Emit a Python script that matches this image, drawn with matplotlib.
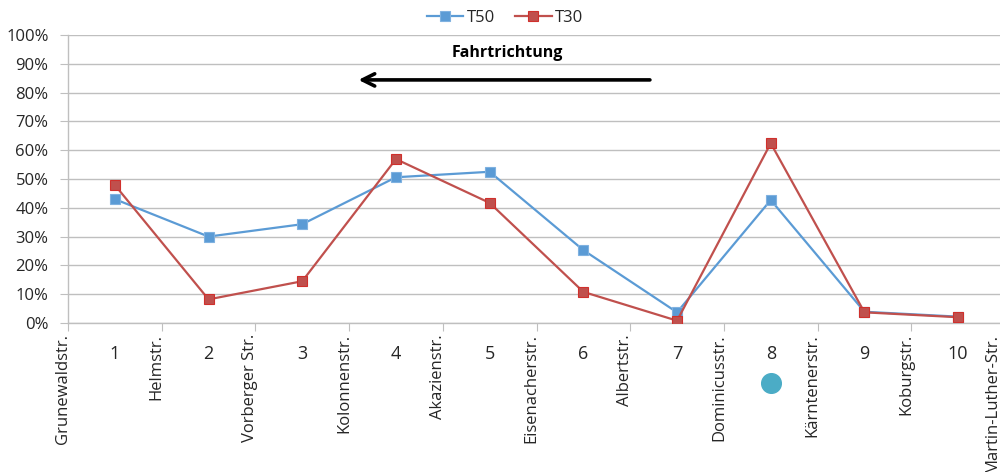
import matplotlib
matplotlib.use('Agg')
import matplotlib.pyplot as plt
from matplotlib.ticker import PercentFormatter, FixedLocator
from matplotlib.transforms import ScaledTranslation

plt.rcParams['font.family'] = ['Open Sans', 'DejaVu Sans']

# ── data ─────────────────────────────────────────────────────────────────────
streets = ['Grunewaldstr.', 'Helmstr.', 'Vorberger Str.', 'Kolonnenstr.',
           'Akazienstr.', 'Eisenacherstr.', 'Albertstr.', 'Dominicusstr.',
           'Kärntenerstr.', 'Koburgstr.', 'Martin-Luther-Str.']
sections = ['1', '2', '3', '4', '5', '6', '7', '8', '9', '10']
t50 = [0.43, 0.30, 0.343, 0.506, 0.525, 0.253, 0.037, 0.427, 0.039, 0.022]
t30 = [0.479, 0.082, 0.145, 0.569, 0.417, 0.108, 0.008, 0.624, 0.037, 0.020]
marked_section = 8          # dot drawn under this section label

BLUE = '#5B9BD5'
RED = '#C0504D'
TEAL = '#4BACC6'
GRID = '#BFBFBF'
TXT = '#262626'

x_sec = [i + 0.5 for i in range(len(sections))]

fig = plt.figure(figsize=(10, 4.72), dpi=100)
ax = fig.add_axes([0.068, 0.3157, 0.937, 0.6102])

ax.plot(x_sec, t50, color=BLUE, lw=1.6, marker='s', ms=7,
        mfc=BLUE, mec='#7FB1E0', mew=0.8, label='T50', zorder=3)
ax.plot(x_sec, t30, color=RED, lw=1.6, marker='s', ms=7,
        mfc=RED, mec='#D0302C', mew=0.8, label='T30', zorder=4)

ax.set_xlim(0, len(streets) - 1)
ax.set_ylim(0, 1)
ax.yaxis.set_major_locator(FixedLocator([i / 10 for i in range(11)]))
ax.yaxis.set_major_formatter(PercentFormatter(1, decimals=0))
ax.grid(axis='y', color=GRID, lw=1.0)
ax.set_axisbelow(True)

# street names on the boundary ticks, section numbers in between
ax.set_xticks(range(len(streets)))
ax.set_xticklabels(streets, rotation=90, ha='center', va='top')
ax.set_xticks(x_sec, minor=True)
ax.set_xticklabels(sections, minor=True, fontsize=13)
ax.tick_params(axis='x', which='major', length=6, color=GRID, pad=2,
               labelsize=12, labelcolor=TXT)
ax.tick_params(axis='x', which='minor', length=0, pad=16, labelcolor=TXT)
ax.tick_params(axis='y', length=6, color=GRID, pad=8, labelsize=12,
               labelcolor=TXT)

# nudge street names left a bit, the last one further so it stays on the page
labels = ax.get_xticklabels()
for i, lab in enumerate(labels):
    dx = -0.13 if i == len(labels) - 1 else -0.05
    lab.set_transform(lab.get_transform()
                      + ScaledTranslation(dx, 0, fig.dpi_scale_trans))

for s in ['top', 'right']:
    ax.spines[s].set_visible(False)
for s in ['left', 'bottom']:
    ax.spines[s].set_color(GRID)
    ax.spines[s].set_linewidth(1.0)

# direction of travel
ax.text(4.69, 0.9375, 'Fahrtrichtung', ha='center', va='center',
        fontsize=11.5, fontweight='bold', color='black')
ax.annotate('', xy=(3.07, 0.844), xytext=(6.24, 0.844),
            arrowprops=dict(arrowstyle='->', color='black', lw=2.6,
                            mutation_scale=22))

ax.scatter([marked_section - 0.5], [-0.21], s=200, color=TEAL,
           clip_on=False, zorder=5)

fig.legend(loc='upper center', bbox_to_anchor=(0.505, 1.01), ncol=2,
           frameon=False, fontsize=12, handlelength=2.2, columnspacing=1.2,
           handletextpad=0.2, labelcolor=TXT)

fig.savefig('out.png', dpi=100, facecolor='white')
